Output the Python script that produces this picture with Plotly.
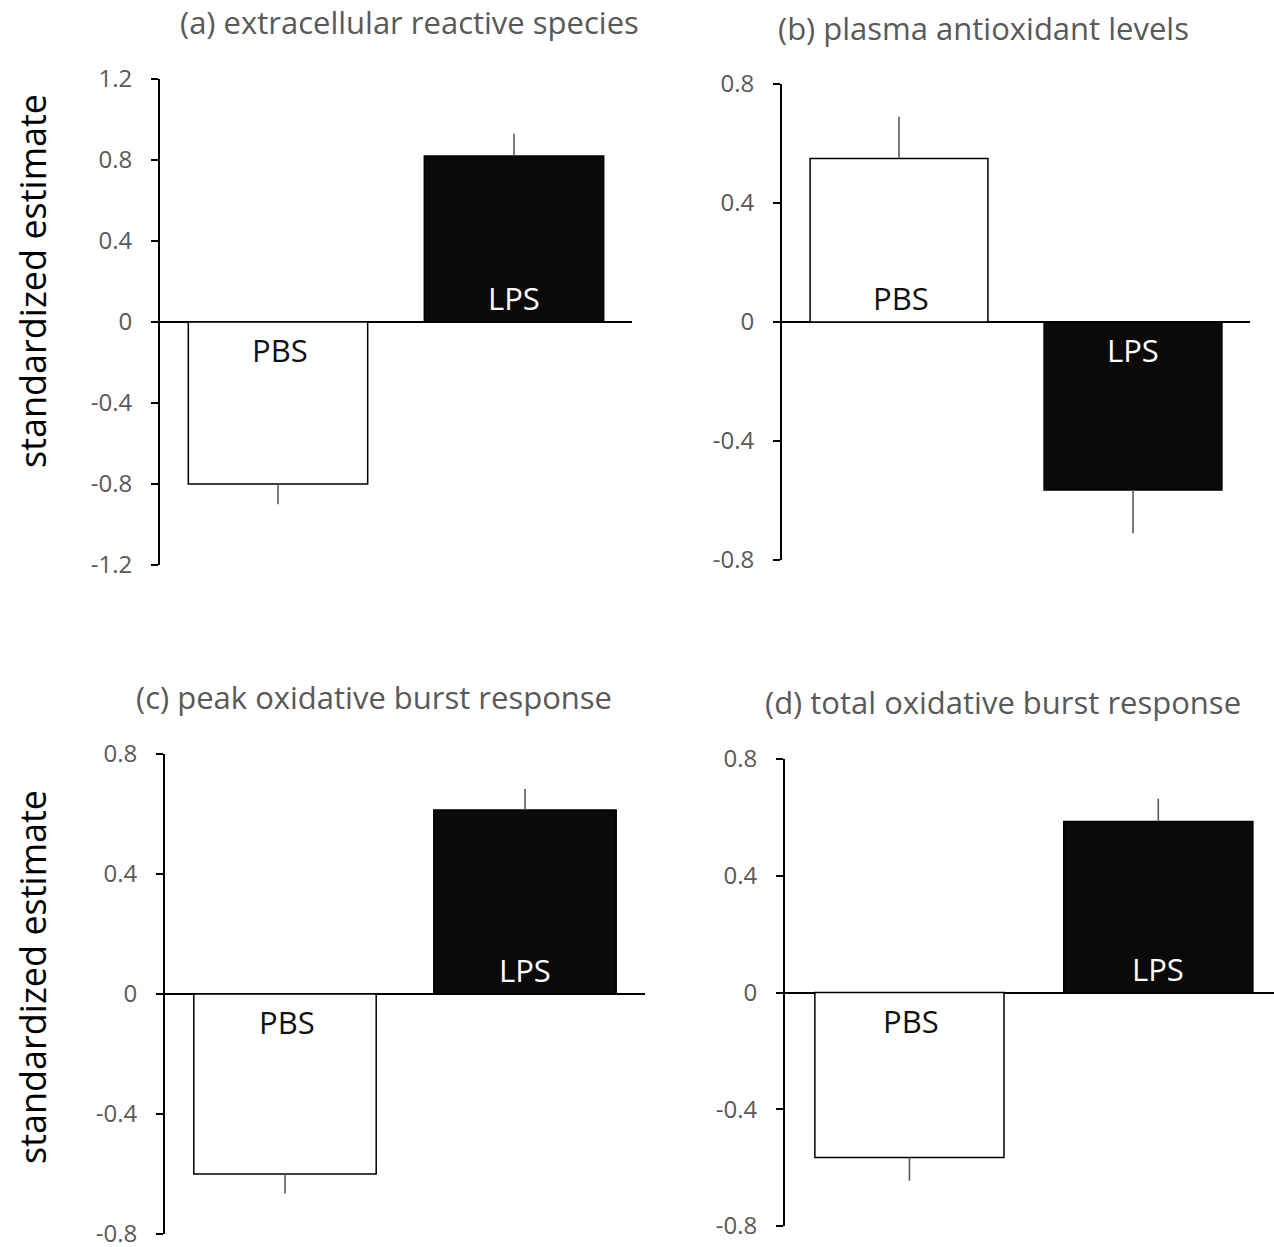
import plotly.graph_objects as go

W, H = 1274, 1247

groups = ["PBS", "LPS"]
titles = ["(a) extracellular reactive species", "(b) plasma antioxidant levels",
          "(c) peak oxidative burst response", "(d) total oxidative burst response"]
vals_a = [-0.80, 0.82]
err_a = [0.10, 0.11]
vals_b = [0.55, -0.565]
err_b = [0.14, 0.145]
vals_c = [-0.60, 0.613]
err_c = [0.065, 0.07]
vals_d = [-0.565, 0.586]
err_d = [0.08, 0.078]
ticks_a = [-1.2, -0.8, -0.4, 0, 0.4, 0.8, 1.2]
ticklabels_a = ["-1.2", "-0.8", "-0.4", "0", "0.4", "0.8", "1.2"]
ticks_bcd = [-0.8, -0.4, 0, 0.4, 0.8]
ticklabels_bcd = ["-0.8", "-0.4", "0", "0.4", "0.8"]
ytitle = "standardized estimate"

FONT = "Open Sans"
GRAY = "#595959"

panels = [
    dict(vals=vals_a, err=err_a, ticks=ticks_a, tl=ticklabels_a, rng=[-1.2, 1.2],
         box=(160, 632, 79, 565), xr=[-0.5, 1.5], title_xy=(409, 22)),
    dict(vals=vals_b, err=err_b, ticks=ticks_bcd, tl=ticklabels_bcd, rng=[-0.8, 0.8],
         box=(782, 1250, 84, 560), xr=[-0.5, 1.5], title_xy=(984, 28)),
    dict(vals=vals_c, err=err_c, ticks=ticks_bcd, tl=ticklabels_bcd, rng=[-0.8, 0.8],
         box=(165, 645, 754, 1234), xr=[-0.5, 1.5], title_xy=(374, 697)),
    dict(vals=vals_d, err=err_d, ticks=ticks_bcd, tl=ticklabels_bcd, rng=[-0.8, 0.8],
         box=(785, 1274, 759, 1226), xr=[-0.5, 1.465], title_xy=(1003, 702)),
]

fig = go.Figure()
annotations = []
for i, p in enumerate(panels):
    n = "" if i == 0 else str(i + 1)
    xa, ya = "x" + n, "y" + n
    x0, x1, y0, y1 = p["box"]
    xs = [0, 1]
    for j, g in enumerate(groups):
        v = p["vals"][j]
        e = p["err"][j]
        pos = v > 0
        fig.add_trace(go.Bar(
            x=[xs[j]], y=[v], width=0.76, xaxis=xa, yaxis=ya,
            marker=dict(color="white" if g == "PBS" else "#0a0a0a",
                        line=dict(color="black", width=1.5)),
            error_y=dict(type="data", symmetric=False,
                         array=[e if pos else 0], arrayminus=[0 if pos else e],
                         color=GRAY, thickness=1.6, width=0),
            showlegend=False, hoverinfo="skip"))
        annotations.append(dict(
            x=xs[j], y=0, xref=xa, yref=ya, text=g, showarrow=False,
            yanchor="bottom" if pos else "top", yshift=1 if pos else -5,
            xshift=2 if g == "PBS" else 0,
            font=dict(family=FONT, size=31, color="white" if g == "LPS" else "#111111")))
    fig.layout["xaxis" + n] = dict(
        domain=[x0 / W, min(x1 / W, 1.0)], range=p["xr"], anchor=ya, automargin=False,
        showline=False, showticklabels=False, ticks="", showgrid=False, zeroline=False,
        fixedrange=True)
    fig.layout["yaxis" + n] = dict(
        domain=[1 - y1 / H, 1 - y0 / H], range=p["rng"], anchor=xa, automargin=False,
        tickvals=p["ticks"], ticktext=p["tl"], ticks="outside", ticklen=7,
        tickwidth=2, tickcolor="black", showline=True, linecolor="black", linewidth=2,
        showgrid=False, zeroline=True, zerolinecolor="black", zerolinewidth=2,
        tickfont=dict(family=FONT, size=24, color=GRAY), ticklabelstandoff=14,
        ticklabeloverflow="allow", fixedrange=True)
    tx, ty = p["title_xy"]
    annotations.append(dict(
        x=tx / W, y=1 - ty / H, xref="paper", yref="paper", text=titles[i],
        showarrow=False, xanchor="center", yanchor="middle",
        font=dict(family=FONT, size=31, color=GRAY)))

for cy in (281, 977):
    annotations.append(dict(
        x=32 / W, y=1 - cy / H, xref="paper", yref="paper", text=ytitle,
        showarrow=False, textangle=-90, xanchor="center", yanchor="middle",
        font=dict(family=FONT, size=36, color="black")))

fig.update_layout(
    template="none",
    width=W, height=H, margin=dict(l=0, r=0, t=0, b=0, pad=0, autoexpand=False),
    paper_bgcolor="white", plot_bgcolor="white", barmode="overlay",
    annotations=annotations, showlegend=False)

fig.write_html("out.html", config={"displayModeBar": False},
               post_script="document.body.style.margin='0';document.body.style.overflow='hidden';")
